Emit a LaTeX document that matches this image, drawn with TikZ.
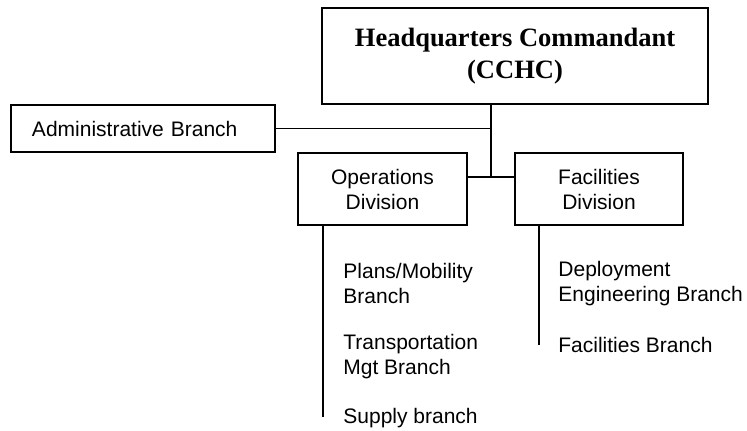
\documentclass[tikz,border=0pt]{standalone}
\usepackage{fontspec}
\newfontfamily\orgsans{Liberation Sans}
\newfontfamily\orgserif{Liberation Serif}
\usepackage{tikz}
\usetikzlibrary{calc,positioning}
\tikzset{unitbox/.style={draw, line width=1pt, rectangle, inner sep=0pt, align=center,
  font=\orgsans\fontsize{10.5}{12.5}\selectfont}}
\tikzset{branchtext/.style={anchor=west, inner sep=0pt, align=left,
  font=\orgsans\fontsize{10.5}{12.5}\selectfont}}
\tikzset{orgline/.style={line width=0.8pt}}

\begin{document}
\begin{tikzpicture}[x=0.5pt, y=-0.5pt, line cap=butt, line join=miter]
      \useasboundingbox (0,0) rectangle (747,430);
      % boxes
      \node [unitbox, minimum width=193pt, minimum height=48pt,
        font=\orgserif\bfseries\fontsize{13.25}{16}\selectfont] (hq) at (515,56)
        {Headquarters Commandant\\(CCHC)};
      \node [unitbox, minimum width=132pt, minimum height=23.5pt, align=left,
        text width=111pt] (adm) at (143,128.5) {Administrative Branch};
      \node [unitbox, minimum width=84.5pt, minimum height=36pt] (ops) at (382.5,189)
        {Operations\\Division};
      \node [unitbox, minimum width=84pt, minimum height=36pt] (fac) at (599,189)
        {Facilities\\Division};
      % branches
      \node [branchtext] (plans) at (343,283.5) {Plans/Mobility\\Branch};
      \node [branchtext] (trans) at (343,357) {Transportation\\Mgt Branch};
      \node [branchtext] (supply) at (343,418) {Supply branch};
      \node [branchtext] (deploy) at (558,283.5) {Deployment\\Engineering Branch};
      \node [branchtext] (facbr) at (558,345) {Facilities Branch};
      % connectors
      \coordinate (jn) at (491,177);
      \coordinate (opsend) at (323,417);
      \coordinate (facend) at (539,345);
      \draw [orgline] (hq.south -| jn) -- (jn);
      \draw [orgline] (adm.east) -- (adm.east -| jn);
      \draw [orgline] (ops.east |- jn) -- (fac.west |- jn);
      \draw [orgline] (ops.south -| opsend) -- (opsend);
      \draw [orgline] (fac.south -| facend) -- (facend);
    \end{tikzpicture}
\end{document}
